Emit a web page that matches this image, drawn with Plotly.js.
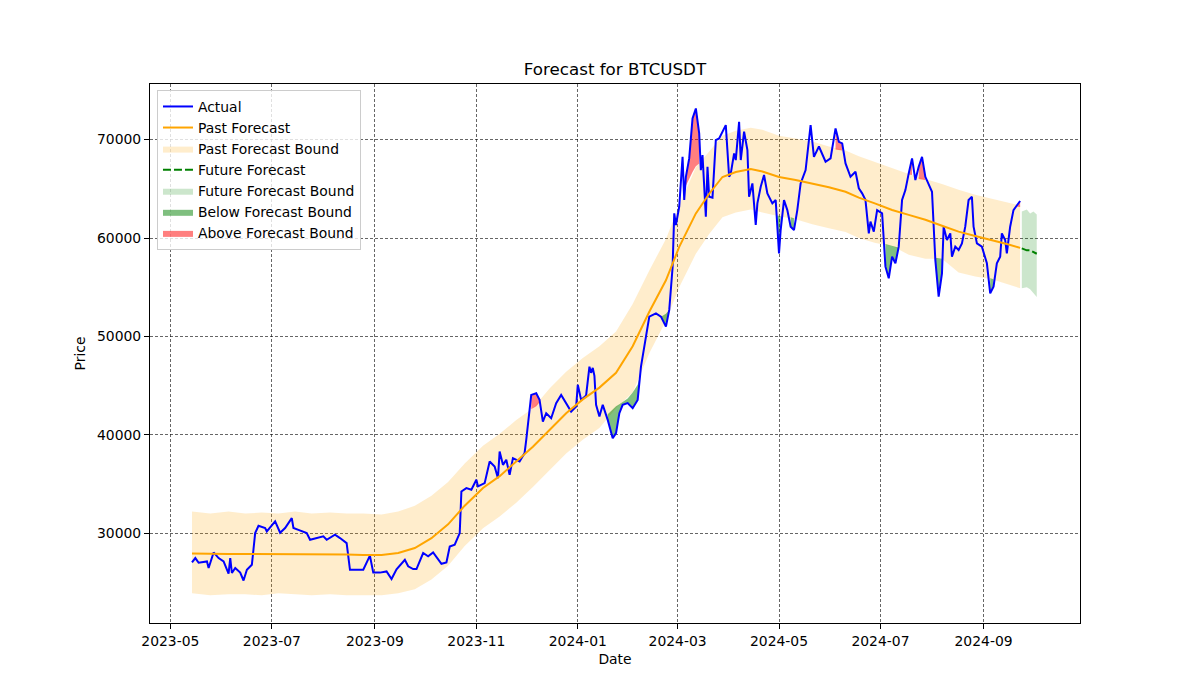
<!DOCTYPE html>
<html>
<head>
<meta charset="utf-8">
<script src="https://cdn.plot.ly/plotly-3.0.1.min.js"></script>
<style>html,body{margin:0;padding:0;background:#fff}#chart{width:1200px;height:700px}</style>
</head>
<body>
<div id="chart"></div>
<script>
// ---------- Actual price ----------
const actualDates = [
 "2023-05-14","2023-05-16","2023-05-18","2023-05-23","2023-05-24","2023-05-27","2023-05-30","2023-06-02",
 "2023-06-05","2023-06-06","2023-06-07","2023-06-09","2023-06-12","2023-06-14","2023-06-16","2023-06-19",
 "2023-06-20","2023-06-21","2023-06-23","2023-06-27","2023-06-28","2023-07-03","2023-07-06","2023-07-09",
 "2023-07-13","2023-07-14","2023-07-17","2023-07-22","2023-07-24","2023-07-28","2023-08-01","2023-08-03",
 "2023-08-08","2023-08-11","2023-08-15","2023-08-17","2023-08-21","2023-08-25","2023-08-29","2023-08-31",
 "2023-09-04","2023-09-08","2023-09-11","2023-09-14","2023-09-19","2023-09-21","2023-09-24","2023-09-26",
 "2023-09-30","2023-10-03","2023-10-06","2023-10-11","2023-10-14","2023-10-16","2023-10-19","2023-10-22",
 "2023-10-23","2023-10-26","2023-10-29","2023-11-01","2023-11-02","2023-11-06","2023-11-09","2023-11-12",
 "2023-11-14","2023-11-15","2023-11-17","2023-11-19","2023-11-21","2023-11-23","2023-11-27","2023-11-30",
 "2023-12-01","2023-12-04","2023-12-07","2023-12-09","2023-12-11","2023-12-13","2023-12-16","2023-12-19",
 "2023-12-22","2023-12-25","2023-12-28","2023-12-31","2024-01-01","2024-01-03","2024-01-06","2024-01-08",
 "2024-01-09","2024-01-10","2024-01-11","2024-01-12","2024-01-14","2024-01-16","2024-01-19","2024-01-22",
 "2024-01-24","2024-01-26","2024-01-28","2024-01-31","2024-02-03","2024-02-06","2024-02-07","2024-02-08",
 "2024-02-11","2024-02-13","2024-02-17","2024-02-20","2024-02-23","2024-02-25","2024-02-27","2024-02-28",
 "2024-02-29","2024-03-02","2024-03-04","2024-03-05","2024-03-06","2024-03-08","2024-03-10","2024-03-12",
 "2024-03-14","2024-03-15","2024-03-16","2024-03-18","2024-03-19","2024-03-20","2024-03-22","2024-03-24",
 "2024-03-26","2024-03-28","2024-03-30","2024-04-01","2024-04-02","2024-04-04","2024-04-05","2024-04-07",
 "2024-04-08","2024-04-10","2024-04-12","2024-04-13","2024-04-15","2024-04-17","2024-04-18","2024-04-20",
 "2024-04-22","2024-04-24","2024-04-27","2024-04-29","2024-05-01","2024-05-02","2024-05-04","2024-05-06",
 "2024-05-08","2024-05-10","2024-05-12","2024-05-14","2024-05-17","2024-05-20","2024-05-22","2024-05-25",
 "2024-05-29","2024-06-01","2024-06-04","2024-06-06","2024-06-08","2024-06-10","2024-06-13","2024-06-16",
 "2024-06-18","2024-06-20","2024-06-22","2024-06-24","2024-06-25","2024-06-27","2024-06-29","2024-07-02",
 "2024-07-04","2024-07-06","2024-07-08","2024-07-10","2024-07-12","2024-07-14","2024-07-16","2024-07-18",
 "2024-07-20","2024-07-22","2024-07-24","2024-07-26","2024-07-28","2024-08-01","2024-08-02","2024-08-03",
 "2024-08-05","2024-08-07","2024-08-08","2024-08-10","2024-08-12","2024-08-13","2024-08-15","2024-08-17",
 "2024-08-19","2024-08-21","2024-08-23","2024-08-25","2024-08-26","2024-08-28","2024-08-31","2024-09-03",
 "2024-09-05","2024-09-07","2024-09-09","2024-09-11","2024-09-12","2024-09-14","2024-09-15","2024-09-17",
 "2024-09-19","2024-09-21","2024-09-23"
];
const actualValues = [
 27040,27480,27000,27140,26470,28050,27480,27140,
 25890,27480,25960,26470,26000,25200,26290,26800,
 28400,30020,30760,30530,30190,31200,30050,30530,
 31540,30530,30340,30020,29340,29510,29680,29340,
 29850,29510,29000,26290,26290,26290,27720,26000,
 26000,26120,25350,26340,27310,26640,26360,26360,
 27990,27650,28050,26900,27040,28660,28830,30020,
 34240,34590,34420,35430,34760,35090,37290,36780,
 35600,38300,36950,37460,35940,37630,37300,38140,
 39490,44060,44230,43550,41350,42200,41690,43220,
 44060,43220,42370,42880,45080,43550,44000,46930,
 46300,46800,46000,43050,41860,43050,41520,39660,
 40170,42200,43050,43220,42710,43550,45250,46930,
 49980,52010,52350,52010,51000,52690,57000,62510,
 61320,63180,68250,63860,66220,68090,72150,73160,
 70630,66900,68430,62160,67240,64190,64100,69950,
 70120,70800,71470,66220,66570,68600,67920,71810,
 67920,70800,68930,64190,65550,61320,63520,65210,
 66400,64540,63520,63860,58440,60810,63860,62840,
 61150,60810,62840,65550,66900,71470,68250,69300,
 67750,68090,71140,69780,69610,67580,66220,66730,
 65050,64540,63860,60470,61660,60640,62840,62510,
 57090,55910,58100,57430,59120,63860,64870,66570,
 68090,65890,67240,68250,66220,64700,61830,57770,
 54040,56410,61150,59800,60470,58100,59120,58780,
 59460,61150,63860,64190,61150,59460,59120,57430,
 54380,55060,57430,58100,60470,59800,58440,61150,
 62840,63350,63760
];

// ---------- Past forecast and its bounds ----------
const forecastDates = [
 "2023-05-14","2023-05-25","2023-06-05","2023-06-15","2023-06-25","2023-07-05","2023-07-15","2023-07-25",
 "2023-08-05","2023-08-15","2023-08-25","2023-09-05","2023-09-15","2023-09-25","2023-10-05","2023-10-15",
 "2023-10-25","2023-11-05","2023-11-15","2023-11-25","2023-12-05","2023-12-15","2023-12-25","2024-01-04",
 "2024-01-14","2024-01-24","2024-02-03","2024-02-13","2024-02-23","2024-03-02","2024-03-12","2024-03-20",
 "2024-03-28","2024-04-05","2024-04-14","2024-04-21","2024-05-01","2024-05-11","2024-05-21","2024-05-31",
 "2024-06-10","2024-06-18","2024-06-28","2024-07-08","2024-07-18","2024-07-28","2024-08-07","2024-08-17",
 "2024-08-27","2024-09-06","2024-09-15","2024-09-23"
];
const forecastValues = [
 27950,27900,27900,27900,27900,27900,27900,27850,
 27850,27850,27800,27800,28000,28500,29500,30900,
 32800,34600,35800,37300,38800,40500,42200,43600,
 44800,46300,49000,52500,55700,59100,62500,64500,
 66200,66700,67000,66750,66200,65900,65550,65150,
 64700,64100,63500,62850,62350,61850,61250,60650,
 60200,59800,59400,59000
];
const upperValues = [
 32200,32000,32200,32000,32100,32000,32200,32000,
 32100,32000,32000,31900,32200,32800,33800,35200,
 37100,38900,40100,41500,42700,44700,46400,47800,
 49000,50500,53300,56700,59900,63300,67200,68800,
 70400,70900,71200,71000,70400,70100,69800,69300,
 68900,68300,67700,67100,66500,66000,65500,64900,
 64400,64000,63600,63300
];
const lowerValues = [
 23900,23700,23800,23800,23700,23900,23800,23700,
 23800,23700,23700,23700,23900,24300,25300,26700,
 28700,30500,31700,33100,34700,36400,38100,39500,
 40700,42700,44300,48300,51600,55000,58400,60400,
 62100,62600,62900,62600,62200,61900,61400,61000,
 60600,60000,59500,59200,58300,57900,57900,56500,
 56100,55800,55300,54900
];

// ---------- Future forecast ----------
const futureDates  = ["2024-09-24","2024-09-27","2024-09-29","2024-10-01","2024-10-03"];
const futureValues = [58950,58750,58750,58550,58400];
const futureUpper  = [62700,62900,62500,62700,62400];
const futureLower  = [54900,55000,54800,54400,54000];

// ---------- Periods where actual left the band ----------
const belowDates = [
 ["2024-01-19","2024-01-22","2024-01-24","2024-01-26","2024-01-28","2024-01-31","2024-02-03","2024-02-06","2024-02-07","2024-02-08"],
 ["2024-02-20","2024-02-23","2024-02-25"],
 ["2024-04-30","2024-05-01","2024-05-02"],
 ["2024-05-08","2024-05-10"],
 ["2024-07-04","2024-07-06","2024-07-08","2024-07-10","2024-07-12"],
 ["2024-08-03","2024-08-05","2024-08-07"],
 ["2024-09-05","2024-09-07"]
];
const belowActual = [
 [41520,39660,40170,42200,43050,43220,42710,43550,45250,46930],
 [52010,51000,52690],
 [61000,58440,60810],
 [61150,60810],
 [57090,55910,58100,57430,59120],
 [57770,54040,56410],
 [54380,55060]
];
const belowBound = [
 [42100,42600,42900,43100,43300,43700,44300,45100,45700,46900],
 [52010,52300,52690],
 [62250,62250,62200],
 [62100,62000],
 [59400,59300,59200,59100,59000],
 [58000,57950,57900],
 [55900,55800]
];
const aboveDates = [
 ["2023-12-04","2023-12-07","2023-12-09"],
 ["2024-03-05","2024-03-06","2024-03-08","2024-03-10","2024-03-12","2024-03-14"],
 ["2024-06-04","2024-06-06","2024-06-08"],
 ["2024-07-18","2024-07-20"],
 ["2024-07-24","2024-07-26","2024-07-28"],
 ["2024-09-21","2024-09-23"]
];
const aboveActual = [
 [44060,44230,43550],
 [64540,66220,68090,72150,73160,70630],
 [71140,69780,69610],
 [66570,68090],
 [67240,68250,66220],
 [63350,63760]
];
const aboveBound = [
 [42600,42900,43300],
 [64540,65300,66060,66700,67300,67580],
 [69000,68950,68900],
 [66450,66400],
 [66000,65950,65900],
 [63200,63150]
];

function polygons(dates, tops, bottoms) {
  const x = [], y = [];
  dates.forEach((d, i) => {
    if (i > 0) { x.push(null); y.push(null); }
    x.push(...d, ...d.slice().reverse());
    y.push(...tops[i], ...bottoms[i].slice().reverse());
  });
  return {x, y};
}
const below = polygons(belowDates, belowActual, belowBound);
const above = polygons(aboveDates, aboveActual, aboveBound);

const FONT = 'DejaVu Sans, sans-serif';
const traces = [
  {x: forecastDates, y: lowerValues, mode: 'lines', line: {width: 0, color: 'rgba(255,165,0,0)'},
   showlegend: false, hoverinfo: 'skip'},
  {x: forecastDates, y: upperValues, mode: 'lines', fill: 'tonexty', fillcolor: 'rgba(255,165,0,0.2)',
   line: {width: 0, color: 'rgba(255,165,0,0)'}, name: 'Past Forecast Bound', legendrank: 3},
  {x: futureDates, y: futureLower, mode: 'lines', line: {width: 0, color: 'rgba(0,128,0,0)'},
   showlegend: false, hoverinfo: 'skip'},
  {x: futureDates, y: futureUpper, mode: 'lines', fill: 'tonexty', fillcolor: 'rgba(0,128,0,0.2)',
   line: {width: 0, color: 'rgba(0,128,0,0)'}, name: 'Future Forecast Bound', legendrank: 5},
  {x: below.x, y: below.y, mode: 'lines', fill: 'toself', fillcolor: 'rgba(0,128,0,0.5)',
   line: {width: 0, color: 'rgba(0,128,0,0)'}, name: 'Below Forecast Bound', legendrank: 6},
  {x: above.x, y: above.y, mode: 'lines', fill: 'toself', fillcolor: 'rgba(255,0,0,0.5)',
   line: {width: 0, color: 'rgba(255,0,0,0)'}, name: 'Above Forecast Bound', legendrank: 7},
  {x: actualDates, y: actualValues, mode: 'lines', line: {color: '#0000ff', width: 2}, name: 'Actual', legendrank: 1},
  {x: forecastDates, y: forecastValues, mode: 'lines', line: {color: '#ffa500', width: 2}, name: 'Past Forecast', legendrank: 2},
  {x: futureDates, y: futureValues, mode: 'lines', line: {color: '#008000', width: 2, dash: '8px,3px'}, name: 'Future Forecast', legendrank: 4}
];

const axisCommon = {
  showline: true, mirror: true, linecolor: '#000', linewidth: 1,
  ticks: 'outside', ticklen: 5, tickwidth: 1, tickcolor: '#000',
  showgrid: true, gridcolor: '#000', gridwidth: 0.6, griddash: '3px,2px',
  zeroline: false, tickfont: {family: FONT, size: 13.9, color: '#000'}
};

const layout = {
  width: 1200, height: 700,
  margin: {l: 150, r: 120, t: 84, b: 77, pad: 0},
  paper_bgcolor: '#fff', plot_bgcolor: '#fff',
  font: {family: FONT, color: '#000'},
  title: {text: 'Forecast for BTCUSDT', font: {family: FONT, size: 16.7, color: '#000'},
          xref: 'paper', x: 0.5, xanchor: 'center', yref: 'container', y: 1 - 69/700, yanchor: 'middle'},
  xaxis: Object.assign({}, axisCommon, {
    type: 'date', range: ['2023-04-18 18:00', '2024-10-29 00:00'],
    tick0: '2023-05-01', dtick: 'M2', tickformat: '%Y-%m',
    title: {text: 'Date', font: {family: FONT, size: 13.9, color: '#000'}, standoff: 6}
  }),
  yaxis: Object.assign({}, axisCommon, {
    range: [20880, 75650], dtick: 10000, tick0: 0, tickformat: 'd',
    title: {text: 'Price', font: {family: FONT, size: 13.9, color: '#000'}, standoff: 8}
  }),
  legend: {x: 0.0075, y: 0.989, xanchor: 'left', yanchor: 'top', traceorder: 'normal',
    bgcolor: 'rgba(255,255,255,0.8)', bordercolor: '#cccccc', borderwidth: 1,
    font: {family: FONT, size: 13.9, color: '#000'}, tracegroupgap: 0, itemwidth: 30},
  showlegend: true
};

Plotly.newPlot('chart', traces, layout, {displayModeBar: false, staticPlot: true});
</script>
</body>
</html>
